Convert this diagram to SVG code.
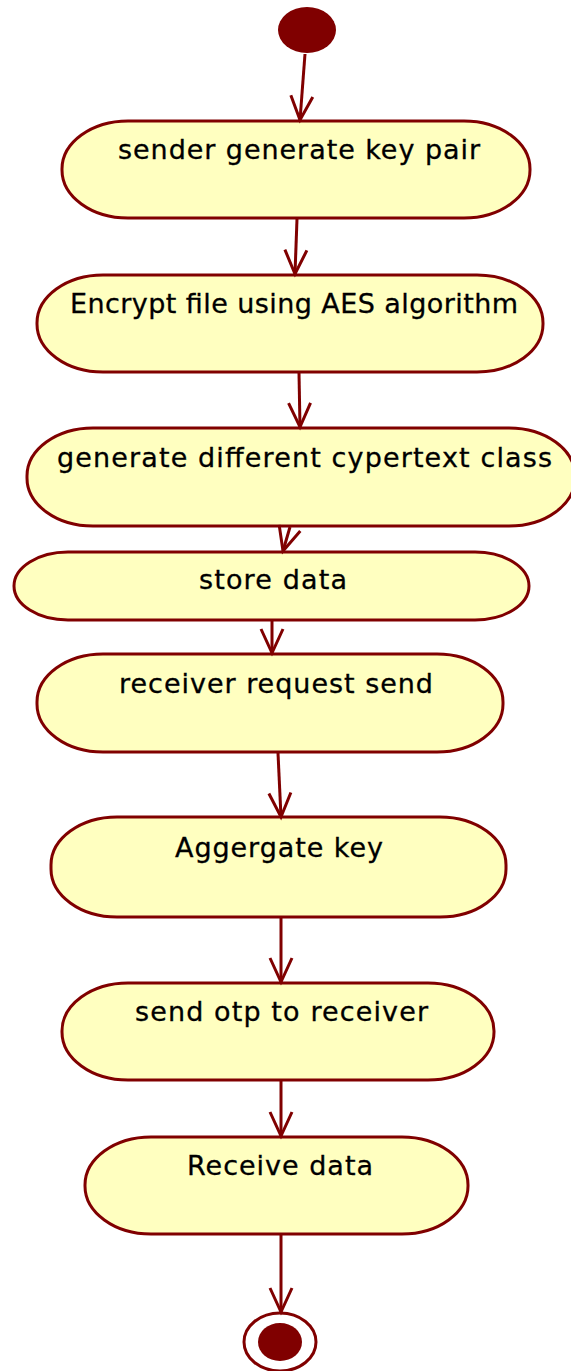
<svg xmlns="http://www.w3.org/2000/svg" width="571" height="1371" viewBox="0 0 571 1371">
  <style>
    .act { fill: #ffffc0; stroke: #800000; stroke-width: 3; }
    .lbl { font-family: "DejaVu Sans", Verdana, sans-serif; font-size: 27px; fill: #000000; stroke: #000000; stroke-width: 0.3; }
    .flow { fill: none; stroke: #800000; stroke-width: 3; marker-end: url(#open); }
    .dot { fill: #800000; }
  </style>
  <defs>
    <marker id="open" markerUnits="userSpaceOnUse" markerWidth="30" markerHeight="30" refX="0" refY="0" viewBox="-27 -15 30 30" orient="auto" overflow="visible">
      <path d="M-24,-11 L0,0 L-24,11" fill="none" stroke="#800000" stroke-width="3"/>
    </marker>
  </defs>

  <!-- initial state -->
  <g id="start">
    <ellipse class="dot" cx="307" cy="30" rx="29" ry="23"/>
  </g>

  <g id="sender-generate-key-pair">
    <rect class="act" x="62" y="121" width="468" height="97" rx="66" ry="48"/>
    <text class="lbl" x="118" y="159" textLength="362" lengthAdjust="spacing">sender generate key pair</text>
  </g>

  <g id="encrypt-file">
    <rect class="act" x="37" y="275" width="506" height="97" rx="66" ry="48"/>
    <text class="lbl" x="70" y="313" textLength="448" lengthAdjust="spacing">Encrypt file using AES algorithm</text>
  </g>

  <g id="generate-ciphertext-class">
    <rect class="act" x="27" y="428" width="548" height="98" rx="66" ry="48"/>
    <text class="lbl" x="57" y="467" textLength="495" lengthAdjust="spacing">generate different cypertext class</text>
  </g>

  <g id="store-data">
    <rect class="act" x="14" y="552" width="515" height="68" rx="54" ry="34"/>
    <text class="lbl" x="199" y="589" textLength="148" lengthAdjust="spacing">store data</text>
  </g>

  <g id="receiver-request-send">
    <rect class="act" x="37" y="654" width="466" height="98" rx="66" ry="48"/>
    <text class="lbl" x="119" y="693" textLength="314" lengthAdjust="spacing">receiver request send</text>
  </g>

  <g id="aggregate-key">
    <rect class="act" x="51" y="817" width="455" height="100" rx="66" ry="48"/>
    <text class="lbl" x="175" y="857" textLength="208" lengthAdjust="spacing">Aggergate key</text>
  </g>

  <g id="send-otp">
    <rect class="act" x="62" y="983" width="432" height="97" rx="66" ry="48"/>
    <text class="lbl" x="135" y="1021" textLength="293" lengthAdjust="spacing">send otp to receiver</text>
  </g>

  <g id="receive-data">
    <rect class="act" x="85" y="1137" width="383" height="97" rx="66" ry="48"/>
    <text class="lbl" x="187" y="1175" textLength="186" lengthAdjust="spacing">Receive data</text>
  </g>

  <!-- final state -->
  <g id="end">
    <ellipse cx="280" cy="1342" rx="36" ry="29" fill="#ffffff" stroke="#800000" stroke-width="3"/>
    <ellipse class="dot" cx="280" cy="1342" rx="22" ry="19"/>
  </g>

  <!-- control flows -->
  <g id="connectors">
    <path class="flow" d="M305,54 L300,120"/>
    <path class="flow" d="M297,219 L295,274"/>
    <path class="flow" d="M299,373 L300,427"/>
    <path class="flow" d="M290,527 L283,551"/>
    <path class="flow" d="M272,621 L272,653"/>
    <path class="flow" d="M278,753 L281,817"/>
    <path class="flow" d="M281,918 L281,982"/>
    <path class="flow" d="M281,1081 L281,1136"/>
    <path class="flow" d="M281,1235 L281,1312"/>
  </g>
</svg>
